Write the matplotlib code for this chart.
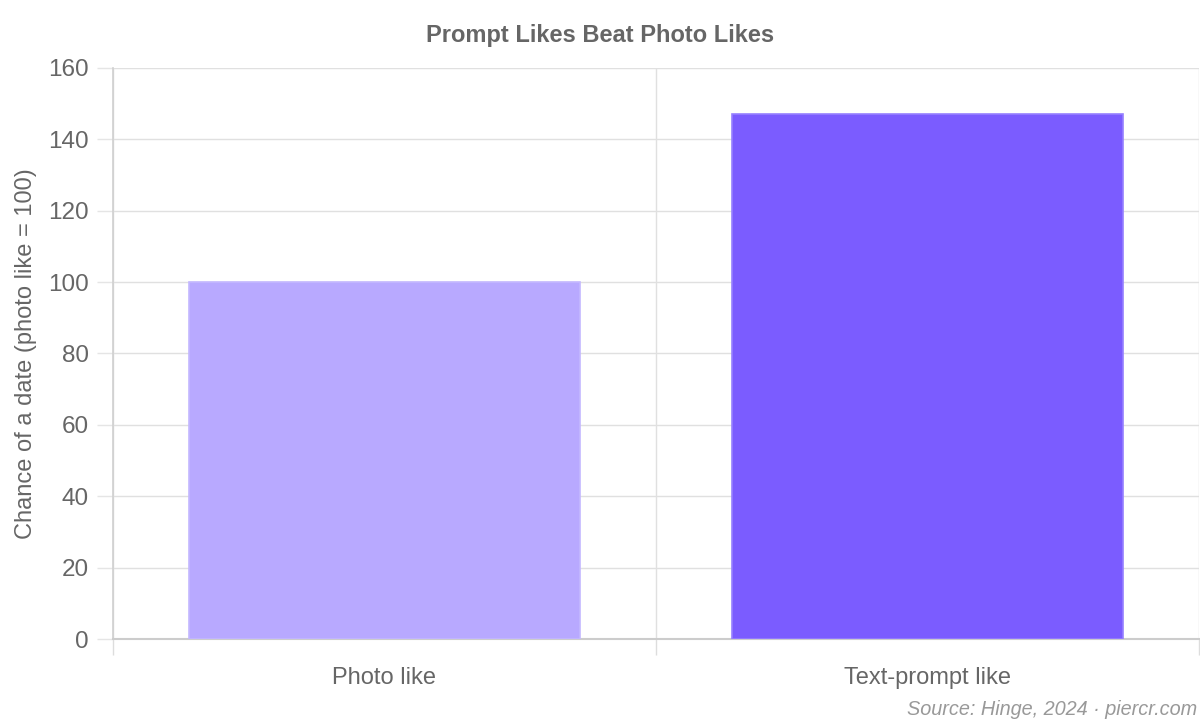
import matplotlib.pyplot as plt
from matplotlib.ticker import MultipleLocator

categories = ['Photo like', 'Text-prompt like']
values = [100, 147]
bar_colors = ['#b8a9ff', '#7b5cff']
edge_colors = ['#c4b8ff', '#9680ff']

plt.rcParams['font.family'] = ['Liberation Sans', 'DejaVu Sans']

fig = plt.figure(figsize=(12, 7.2), dpi=100)
ax = fig.add_axes([0.0942, 0.1125, 0.9048, 0.7931])

x = range(len(categories))
ax.bar(x, values, width=0.72, color=bar_colors, edgecolor=edge_colors, linewidth=1.2, zorder=3)

ax.set_xlim(-0.5, len(categories) - 0.5)
ax.set_ylim(0, 160)
ax.yaxis.set_major_locator(MultipleLocator(20))

# category labels centered, grid lines at category boundaries
ax.set_xticks(list(x))
ax.set_xticklabels(categories)
ax.set_xticks([-0.5, 0.5, 1.5], minor=True)
ax.tick_params(axis='x', which='major', length=0, pad=20.5, labelsize=17, labelcolor='#666666')
ax.tick_params(axis='x', which='minor', length=11.5, color='#dddddd', width=1)
ax.tick_params(axis='y', length=11.5, color='#e5e5e5', width=1, labelsize=17.5, labelcolor='#666666', pad=6)

ax.grid(axis='y', color='#e0e0e0', linewidth=1, zorder=0)
ax.grid(axis='x', which='minor', color='#e0e0e0', linewidth=1, zorder=0)

for side in ['top', 'right']:
    ax.spines[side].set_visible(False)
ax.spines['left'].set_color('#d0d0d0')
ax.spines['bottom'].set_color('#cccccc')
ax.spines['left'].set_linewidth(1.2)
ax.spines['bottom'].set_linewidth(1.5)

ax.set_ylabel('Chance of a date (photo like = 100)', fontsize=17, color='#666666', labelpad=8)

fig.text(0.5, 0.951, 'Prompt Likes Beat Photo Likes', ha='center', va='center',
         fontsize=17, fontweight='bold', color='#666666')
fig.text(0.9975, 0.001, 'Source: Hinge, 2024 · piercr.com', ha='right', va='bottom',
         fontsize=14.3, style='italic', color='#999999')

fig.savefig('out.png', dpi=100)
